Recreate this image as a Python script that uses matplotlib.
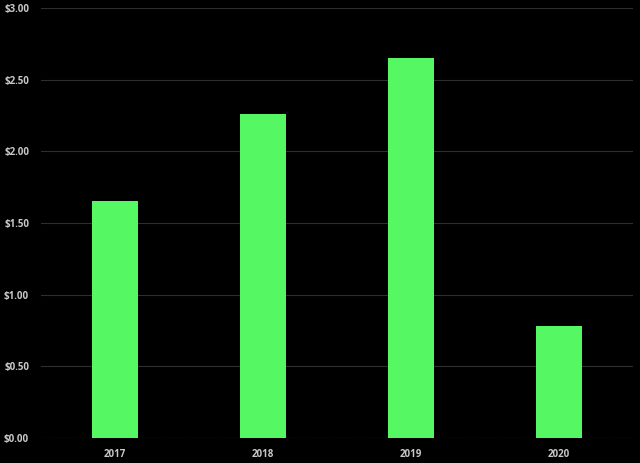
import matplotlib
matplotlib.use('Agg')
import matplotlib.pyplot as plt
from matplotlib.ticker import FuncFormatter

years = ['2017', '2018', '2019', '2020']
values = [1.65, 2.26, 2.65, 0.78]
yticks = [0, 0.5, 1.0, 1.5, 2.0, 2.5, 3.0]

plt.rcParams['font.family'] = ['Open Sans', 'DejaVu Sans']

fig = plt.figure(figsize=(6.4, 4.63), dpi=100, facecolor='black')
ax = fig.add_axes([0.064, 0.054, 0.925, 0.929], facecolor='black')

ax.bar(range(len(years)), values, width=0.31, color='#55f763', zorder=3)

ax.set_xlim(-0.5, 3.5)
ax.set_ylim(0, 3.0)
ax.set_yticks(yticks)
ax.yaxis.set_major_formatter(FuncFormatter(lambda v, p: '${:.2f}'.format(v)))
ax.set_xticks(range(len(years)))
ax.set_xticklabels(years)

ax.grid(axis='y', color='#2e2e2e', linewidth=0.8, zorder=0)
ax.axhline(0, color='#555555', linewidth=0.8, linestyle=':', zorder=1)
for s in ax.spines.values():
    s.set_visible(False)
ax.tick_params(length=0, colors='#c8c8c8', labelsize=7)
ax.tick_params(axis='y', pad=8.5)
ax.tick_params(axis='x', pad=8)
for lbl in ax.get_xticklabels() + ax.get_yticklabels():
    lbl.set_fontweight('bold')

fig.savefig('out.png', dpi=100, facecolor='black')
